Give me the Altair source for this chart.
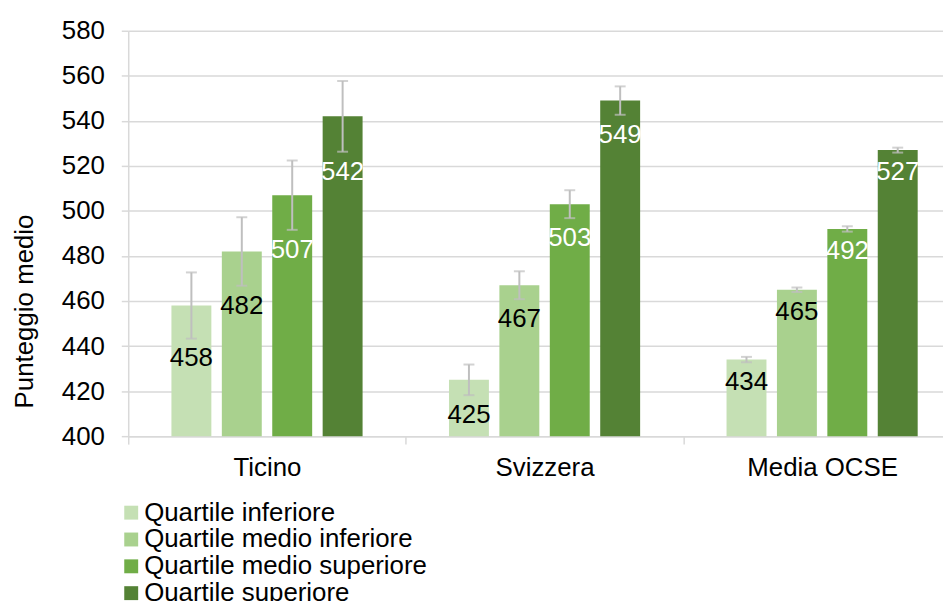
import altair as alt
import pandas as pd

categories = ["Ticino", "Svizzera", "Media OCSE"]
quartiles = ["Quartile inferiore", "Quartile medio inferiore",
             "Quartile medio superiore", "Quartile superiore"]
ticino = [458, 482, 507, 542]
svizzera = [425, 467, 503, 549]
ocse = [434, 465, 492, 527]
err_ticino = [14.7, 15.2, 15.4, 15.7]
err_svizzera = [6.8, 6.2, 6.2, 6.3]
err_ocse = [1.2, 1.0, 1.2, 1.1]
colors = ["#C5E0B4", "#A9D18E", "#70AD47", "#548235"]
label_tone = ["dark", "dark", "light", "light"]
y_ticks = [400, 420, 440, 460, 480, 500, 520, 540, 560, 580]

rows = []
for cat, vals, errs in zip(categories, [ticino, svizzera, ocse],
                           [err_ticino, err_svizzera, err_ocse]):
    for q, v, e, t in zip(quartiles, vals, errs, label_tone):
        rows.append({"cat": cat, "q": q, "value": v, "lo": v - e, "hi": v + e, "tone": t})
df = pd.DataFrame(rows)

FONT = "Arial, Liberation Sans, sans-serif"
GRID = "#D9D9D9"
ERR = "#BFBFBF"

base = alt.Chart(df)

x = alt.X("cat:N", sort=categories,
          scale=alt.Scale(domain=categories, range=[0, 838], paddingInner=0, paddingOuter=0),
          axis=alt.Axis(title=None, tickBand="extent", labelAngle=0, labelFontSize=26,
                        labelColor="#000000", labelPadding=11, tickSize=8, tickColor=GRID,
                        tickWidth=1.5, domainColor=GRID, domainWidth=1.5, grid=False))
xo = alt.XOffset("q:N", sort=quartiles,
                 scale=alt.Scale(domain=quartiles, paddingInner=0.208, paddingOuter=0.857))
yscale = alt.Scale(domain=[400, 580], nice=False, zero=False)

bars = base.mark_bar().encode(
    x=x, xOffset=xo,
    y=alt.Y("value:Q", scale=yscale,
            axis=alt.Axis(values=y_ticks, title="Punteggio medio", titleFontSize=26,
                          titleFontWeight="normal", titleColor="#000000",
                          titleX=-104, titleY=282, titleAngle=270, titleAlign="center",
                          titleBaseline="middle",
                          labelFontSize=26, labelColor="#000000", labelPadding=17,
                          tickSize=7, tickColor=GRID, tickWidth=1.5,
                          domainColor=GRID, domainWidth=1.5,
                          gridColor=GRID, gridWidth=1.5)),
    y2=alt.datum(400),
    color=alt.Color("q:N", sort=quartiles,
                    scale=alt.Scale(domain=quartiles, range=colors),
                    legend=alt.Legend(title=None, orient="none", legendX=-10, legendY=472,
                                      symbolType="square", symbolSize=196, symbolStrokeWidth=0,
                                      labelFontSize=26, labelColor="#000000", labelLimit=1000,
                                      rowPadding=1, padding=0, labelOffset=0)),
)

rule = base.mark_rule(color=ERR, strokeWidth=2).encode(
    x=x, xOffset=xo, y=alt.Y("lo:Q", scale=yscale), y2="hi:Q")
cap_hi = base.mark_tick(orient="horizontal", size=11, thickness=2, color=ERR).encode(
    x=x, xOffset=xo, y=alt.Y("hi:Q", scale=yscale))
cap_lo = base.mark_tick(orient="horizontal", size=11, thickness=2, color=ERR).encode(
    x=x, xOffset=xo, y=alt.Y("lo:Q", scale=yscale))

text_dark = base.transform_filter(alt.datum.tone == "dark").mark_text(
    dy=20, fontSize=26, baseline="middle", color="#000000").encode(
    x=x, xOffset=xo, y=alt.Y("lo:Q", scale=yscale), text="value:Q")
text_light = base.transform_filter(alt.datum.tone == "light").mark_text(
    dy=20, fontSize=26, baseline="middle", color="#FFFFFF").encode(
    x=x, xOffset=xo, y=alt.Y("lo:Q", scale=yscale), text="value:Q")

chart = alt.layer(bars, rule, cap_hi, cap_lo, text_dark, text_light).properties(
    width=820, height=408,
    autosize=alt.AutoSizeParams(type="none"),
    padding={"left": 121, "top": 21, "right": 0, "bottom": 164},
    background="#FFFFFF",
).configure(font=FONT).configure_view(stroke=None)

chart.save("out.html", embed_options={"renderer": "svg", "actions": False})
